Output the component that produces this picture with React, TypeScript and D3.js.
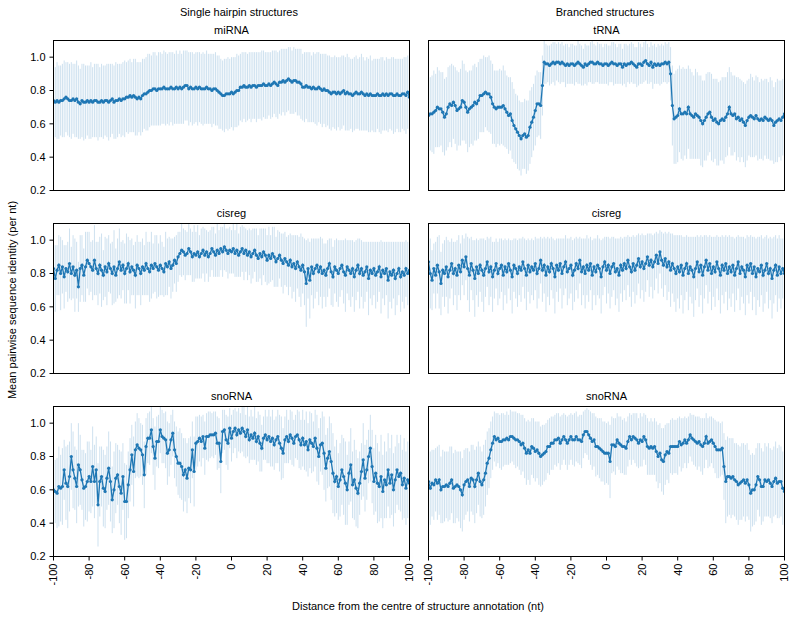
import React from "react";
import * as d3 from "d3";

// x categories: distance from centre (nt)
const positions: number[] = d3.range(-100, 101);
const xTicks = [-100, -80, -60, -40, -20, 0, 20, 40, 60, 80, 100];
const yTicks = [0.2, 0.4, 0.6, 0.8, 1.0];

const miRNAMean = [
  .74, .73, .74, .73, .74, .74, .75, .76, .75, .74,
  .74, .75, .74, .75, .73, .72, .74, .73, .73, .74,
  .73, .74, .73, .74, .74, .73, .73, .74, .73, .74,
  .74, .73, .74, .75, .73, .74, .74, .75, .74, .75,
  .75, .76, .76, .77, .76, .77, .76, .75, .76, .75,
  .77, .78, .78, .79, .80, .80, .81, .81, .80, .81,
  .81, .81, .82, .81, .81, .81, .82, .81, .81, .82,
  .81, .82, .81, .82, .83, .83, .81, .82, .81, .81,
  .82, .81, .82, .81, .81, .81, .82, .81, .81, .80,
  .81, .81, .80, .79, .78, .77, .77, .78, .78, .78,
  .79, .78, .79, .80, .80, .82, .82, .83, .82, .82,
  .83, .82, .83, .83, .82, .83, .83, .83, .84, .83,
  .83, .84, .83, .84, .85, .84, .83, .85, .85, .86,
  .85, .86, .87, .86, .85, .86, .86, .85, .85, .84,
  .82, .82, .83, .82, .82, .81, .82, .81, .81, .82,
  .81, .80, .81, .80, .80, .79, .78, .79, .79, .78,
  .79, .78, .79, .80, .78, .79, .78, .78, .77, .78,
  .79, .78, .78, .79, .78, .77, .78, .77, .78, .77,
  .77, .77, .78, .77, .77, .78, .77, .78, .77, .78,
  .78, .77, .77, .78, .77, .77, .78, .78, .77, .79,
  .76,
];
const miRNAErr = [
  .22, .21, .23, .22, .21, .22, .23, .21, .22, .22,
  .23, .21, .22, .23, .22, .21, .22, .23, .22, .21,
  .22, .23, .21, .22, .22, .23, .21, .22, .22, .21,
  .22, .23, .22, .21, .22, .23, .22, .21, .22, .22,
  .23, .21, .22, .22, .21, .22, .23, .22, .21, .22,
  .22, .21, .22, .23, .22, .21, .22, .22, .21, .22,
  .22, .21, .22, .22, .21, .22, .21, .22, .21, .22,
  .21, .22, .21, .22, .21, .21, .22, .21, .22, .21,
  .21, .22, .21, .21, .22, .21, .22, .21, .21, .22,
  .21, .22, .21, .22, .21, .21, .22, .21, .22, .21,
  .21, .22, .21, .22, .21, .20, .21, .20, .21, .20,
  .20, .21, .20, .20, .21, .20, .20, .21, .20, .20,
  .20, .19, .20, .20, .19, .20, .20, .19, .20, .19,
  .20, .19, .19, .20, .19, .20, .19, .20, .20, .21,
  .20, .21, .20, .21, .21, .20, .21, .21, .22, .21,
  .21, .22, .21, .22, .21, .22, .22, .21, .22, .22,
  .21, .22, .22, .21, .22, .23, .22, .21, .22, .22,
  .22, .21, .22, .23, .22, .21, .22, .22, .23, .21,
  .22, .22, .21, .22, .23, .22, .21, .22, .22, .21,
  .22, .23, .22, .21, .22, .22, .21, .22, .23, .22,
  .22,
];

const tRNAMean = [
  .65, .66, .66, .67, .68, .70, .69, .69, .67, .64,
  .66, .70, .72, .71, .73, .71, .68, .69, .70, .74,
  .73, .70, .67, .69, .70, .71, .73, .72, .74, .77,
  .77, .78, .79, .78, .78, .76, .72, .70, .69, .70,
  .70, .70, .71, .69, .67, .65, .66, .62, .59, .57,
  .55, .53, .51, .53, .54, .52, .53, .58, .61, .64,
  .68, .72, .72, .71, .83, .97, .96, .96, .95, .96,
  .97, .96, .97, .97, .96, .97, .96, .95, .96, .95,
  .96, .96, .95, .96, .97, .96, .95, .94, .96, .95,
  .96, .97, .97, .96, .96, .97, .96, .96, .95, .96,
  .96, .95, .96, .97, .96, .96, .95, .96, .96, .94,
  .96, .95, .96, .96, .97, .96, .95, .94, .96, .96,
  .95, .97, .98, .96, .95, .97, .94, .96, .95, .96,
  .95, .96, .96, .97, .96, .97, .90, .71, .63, .64,
  .65, .69, .66, .66, .67, .66, .70, .66, .65, .64,
  .66, .65, .64, .62, .60, .62, .64, .66, .67, .64,
  .62, .63, .61, .60, .62, .63, .62, .64, .66, .70,
  .66, .65, .66, .63, .64, .62, .63, .61, .59, .62,
  .64, .65, .64, .63, .65, .63, .62, .63, .62, .64,
  .63, .62, .63, .62, .59, .61, .62, .63, .62, .64,
  .66,
];
const tRNAErr = [
  .24, .22, .23, .25, .22, .24, .23, .22, .24, .23,
  .22, .24, .23, .25, .22, .23, .24, .22, .23, .24,
  .23, .22, .24, .23, .22, .24, .23, .22, .23, .22,
  .22, .23, .21, .22, .23, .22, .24, .22, .23, .22,
  .23, .22, .24, .23, .22, .23, .22, .23, .22, .21,
  .22, .21, .22, .20, .21, .22, .21, .22, .21, .20,
  .21, .20, .19, .20, .18, .13, .12, .11, .12, .12,
  .12, .13, .11, .12, .12, .12, .11, .13, .12, .11,
  .12, .12, .12, .11, .13, .12, .12, .11, .12, .12,
  .11, .12, .13, .12, .11, .12, .12, .12, .11, .12,
  .12, .12, .11, .12, .13, .12, .11, .12, .12, .11,
  .12, .13, .11, .12, .12, .12, .11, .12, .13, .12,
  .11, .12, .12, .12, .11, .12, .13, .12, .11, .12,
  .12, .12, .11, .12, .12, .12, .16, .24, .27, .28,
  .28, .26, .27, .28, .26, .27, .25, .27, .26, .25,
  .27, .26, .25, .27, .26, .24, .26, .25, .24, .26,
  .25, .24, .26, .25, .24, .25, .26, .24, .25, .24,
  .25, .24, .23, .25, .24, .25, .23, .24, .25, .24,
  .23, .25, .24, .23, .24, .25, .23, .24, .24, .23,
  .24, .23, .25, .24, .23, .24, .25, .23, .24, .23,
  .24,
];

const cisregLMean = [
  .83, .77, .82, .85, .80, .84, .78, .83, .81, .86,
  .80, .84, .79, .82, .72, .83, .85, .79, .84, .88,
  .86, .84, .82, .88, .83, .80, .85, .82, .79, .84,
  .81, .86, .83, .80, .84, .79, .83, .87, .82, .85,
  .80, .83, .86, .81, .84, .82, .79, .85, .83, .80,
  .84, .82, .86, .83, .81, .85, .83, .86, .84, .82,
  .85, .83, .81, .86, .84, .87, .83, .85, .88, .86,
  .90, .92, .94, .93, .91, .92, .95, .93, .90, .92,
  .91, .93, .90, .92, .94, .91, .93, .90, .92, .95,
  .93, .91, .94, .92, .95, .93, .96, .94, .92, .94,
  .93, .95, .92, .94, .91, .93, .95, .92, .94, .91,
  .93, .90, .92, .94, .91, .89, .92, .90, .93, .91,
  .88, .91, .89, .92, .90, .87, .89, .91, .88, .86,
  .89, .87, .85, .88, .84, .86, .83, .87, .84, .82,
  .85, .81, .74, .83, .76, .84, .80, .83, .85, .81,
  .84, .80, .82, .79, .83, .86, .81, .78, .84, .82,
  .80, .83, .85, .81, .79, .84, .82, .80, .83, .78,
  .82, .85, .80, .83, .79, .81, .84, .77, .82, .80,
  .83, .79, .81, .84, .78, .82, .80, .83, .76, .81,
  .79, .82, .77, .80, .83, .78, .81, .79, .83, .80,
  .82,
];
const cisregLErr = [
  .17, .20, .15, .18, .22, .16, .19, .14, .18, .21,
  .16, .19, .22, .17, .15, .20, .18, .16, .21, .17,
  .19, .15, .18, .21, .16, .19, .17, .22, .15, .18,
  .20, .17, .15, .19, .22, .16, .18, .20, .17, .15,
  .18, .21, .16, .19, .17, .15, .20, .18, .16, .19,
  .17, .15, .19, .16, .18, .20, .15, .17, .19, .16,
  .18, .16, .15, .19, .17, .15, .18, .16, .14, .17,
  .15, .13, .16, .14, .15, .13, .16, .14, .15, .17,
  .14, .16, .13, .15, .14, .16, .13, .15, .14, .13,
  .15, .13, .16, .14, .13, .15, .14, .13, .15, .14,
  .13, .15, .14, .16, .13, .15, .14, .16, .13, .15,
  .14, .16, .15, .13, .16, .14, .15, .17, .14, .16,
  .15, .17, .14, .16, .18, .15, .17, .14, .16, .18,
  .16, .15, .18, .16, .19, .17, .20, .16, .18, .22,
  .17, .20, .26, .18, .23, .17, .21, .18, .16, .20,
  .18, .21, .16, .19, .17, .15, .20, .18, .16, .19,
  .20, .17, .15, .19, .22, .16, .18, .20, .17, .21,
  .18, .16, .21, .17, .20, .18, .15, .22, .17, .19,
  .16, .20, .18, .15, .22, .17, .19, .16, .23, .18,
  .20, .17, .22, .19, .16, .21, .18, .20, .17, .19,
  .18,
];

const cisregRMean = [
  .87, .80, .76, .83, .79, .85, .81, .74, .82, .80,
  .84, .78, .82, .86, .80, .83, .79, .85, .81, .88,
  .84, .90, .83, .79, .86, .82, .77, .84, .80, .85,
  .82, .79, .83, .87, .81, .84, .78, .82, .86, .80,
  .83, .85, .79, .84, .81, .86, .82, .78, .85, .83,
  .80, .84, .82, .87, .83, .79, .85, .81, .84, .82,
  .86, .80, .83, .88, .82, .85, .79, .84, .81, .86,
  .83, .78, .85, .82, .86, .80, .84, .87, .81, .83,
  .85, .79, .82, .86, .83, .88, .81, .84, .80, .85,
  .82, .86, .79, .84, .81, .85, .83, .78, .84, .87,
  .82, .85, .80, .84, .86, .81, .83, .79, .85, .82,
  .86, .83, .88, .84, .81, .86, .82, .85, .89, .84,
  .87, .83, .86, .90, .85, .88, .84, .87, .91, .86,
  .93, .88, .85, .89, .84, .87, .82, .86, .83, .80,
  .84, .81, .85, .79, .83, .86, .80, .84, .82, .78,
  .83, .87, .81, .85, .79, .84, .88, .82, .86, .80,
  .84, .81, .87, .83, .79, .85, .82, .86, .80, .84,
  .81, .85, .79, .83, .87, .80, .84, .82, .78, .85,
  .82, .86, .80, .84, .78, .83, .81, .85, .79, .82,
  .86, .80, .83, .77, .82, .85, .79, .84, .80, .83,
  .80,
];
const cisregRErr = [
  .16, .21, .18, .15, .20, .17, .22, .19, .16, .20,
  .18, .22, .17, .15, .19, .16, .21, .18, .17, .15,
  .17, .14, .19, .22, .16, .18, .23, .17, .20, .16,
  .19, .22, .17, .15, .20, .18, .21, .17, .15, .19,
  .18, .16, .21, .17, .19, .15, .18, .22, .16, .18,
  .20, .17, .19, .15, .18, .21, .16, .19, .17, .18,
  .16, .21, .18, .14, .19, .17, .22, .18, .20, .16,
  .18, .22, .16, .19, .15, .21, .17, .16, .20, .18,
  .17, .21, .19, .16, .18, .14, .20, .17, .21, .18,
  .19, .16, .21, .17, .20, .18, .18, .22, .17, .15,
  .20, .17, .21, .18, .16, .20, .18, .22, .17, .19,
  .16, .19, .15, .18, .21, .17, .20, .18, .15, .19,
  .17, .20, .17, .14, .19, .16, .19, .17, .14, .18,
  .13, .17, .19, .16, .20, .18, .22, .18, .20, .23,
  .19, .22, .18, .23, .19, .17, .22, .18, .20, .24,
  .19, .16, .21, .18, .23, .19, .15, .20, .17, .22,
  .18, .21, .16, .19, .23, .18, .20, .17, .22, .19,
  .21, .17, .22, .19, .16, .22, .18, .20, .23, .18,
  .20, .17, .22, .18, .23, .19, .21, .18, .22, .20,
  .17, .21, .19, .24, .20, .18, .22, .19, .21, .18,
  .21,
];

const snoLMean = [
  .60, .59, .58, .62, .61, .62, .72, .64, .62, .68,
  .80, .72, .67, .62, .75, .72, .66, .61, .62, .65,
  .68, .65, .74, .65, .72, .51, .65, .68, .61, .59,
  .67, .73, .65, .54, .60, .67, .69, .62, .58, .68,
  .53, .53, .63, .72, .81, .71, .84, .87, .85, .84,
  .81, .69, .86, .91, .91, .96, .86, .79, .89, .89,
  .96, .92, .91, .90, .82, .84, .90, .94, .84, .80,
  .76, .76, .74, .69, .72, .67, .73, .72, .84, .71,
  .88, .89, .91, .89, .92, .85, .92, .92, .93, .93,
  .93, .94, .88, .88, .77, .95, .96, .90, .88, .97,
  .91,
  .95, .97, .93, .96, .94, .97, .95, .92, .96, .90,
  .93, .91, .94, .89, .92, .88, .85, .91, .93, .90,
  .92, .89, .91, .87, .90, .92, .88, .85, .82, .90,
  .92, .89, .93, .91, .88, .92, .93, .90, .87, .91,
  .87, .89, .84, .90, .88, .86, .91, .85, .80, .87,
  .88, .82, .73, .79, .83, .77, .70, .65, .68, .62,
  .66, .72, .68, .64, .60, .70, .75, .63, .66, .61,
  .58, .64, .71, .78, .67, .72, .80, .85, .74, .65,
  .70, .64, .62, .68, .59, .66, .63, .72, .64, .69,
  .60, .66, .72, .68, .70, .63, .67, .61, .66, .64,
];
const snoLErr = [
  .22, .19, .21, .24, .20, .23, .18, .22, .25, .21,
  .20, .23, .19, .22, .25, .21, .18, .23, .20, .24,
  .21, .19, .24, .22, .20, .25, .21, .18, .23, .22,
  .19, .22, .24, .20, .23, .21, .18, .22, .25, .20,
  .23, .22, .20, .19, .18, .21, .17, .19, .18, .16,
  .18, .20, .17, .15, .16, .14, .17, .19, .15, .16,
  .14, .16, .15, .17, .19, .16, .15, .14, .17, .18,
  .19, .21, .20, .22, .19, .21, .18, .20, .17, .21,
  .16, .15, .14, .15, .13, .16, .14, .15, .14, .13,
  .14, .13, .16, .15, .19, .13, .12, .15, .16, .12,
  .14, .13, .12, .14, .13, .12, .14, .15, .13, .16,
  .14, .15, .13, .16, .14, .15, .17, .14, .13, .15,
  .14, .16, .15, .17, .15, .14, .16, .17, .19, .15,
  .14, .16, .13, .15, .16, .14, .13, .15, .17, .15,
  .17, .15, .18, .16, .17, .18, .15, .17, .20, .17,
  .16, .19, .22, .20, .18, .21, .23, .24, .21, .22,
  .20, .22, .21, .23, .25, .21, .19, .22, .20, .24,
  .23, .21, .19, .17, .22, .20, .18, .16, .20, .22,
  .20, .23, .24, .21, .25, .22, .23, .20, .22, .21,
  .24, .22, .20, .21, .20, .23, .21, .24, .22, .23,
  .22,
];

const snoRMean = [
  .65, .61, .64, .63, .66, .64, .66, .60, .62, .62,
  .63, .62, .64, .66, .61, .62, .63, .62, .60, .57,
  .63, .65, .66, .62, .67, .66, .62, .66, .70, .65,
  .63, .66, .70, .76, .79, .84, .88, .92, .90, .91,
  .89, .89, .90, .90, .91, .90, .92, .92, .91, .90,
  .90, .89, .87, .88, .85, .82, .84, .82, .86, .85,
  .83, .84, .82, .80, .81, .82, .83, .86, .86, .88,
  .88, .90, .90, .91, .88, .90, .92, .90, .88, .90,
  .92, .90, .90, .92, .90, .90, .89, .93, .95, .95,
  .93, .91, .89, .90, .86, .86, .85, .84, .83, .82,
  .82, .82, .77, .87, .87, .86, .90, .88, .87, .86,
  .86, .85, .89, .92, .90, .92, .91, .90, .88, .90,
  .89, .92, .90, .86, .85, .86, .85, .86, .83, .80,
  .82, .78, .77, .81, .83, .82, .86, .86, .86, .86,
  .86, .89, .87, .88, .90, .88, .90, .93, .91, .90,
  .89, .88, .89, .87, .86, .88, .92, .88, .89, .90,
  .88, .86, .84, .84, .84, .85, .74, .65, .68, .68,
  .67, .68, .66, .65, .63, .64, .65, .66, .64, .66,
  .63, .58, .60, .60, .63, .68, .66, .62, .62, .66,
  .65, .66, .64, .62, .65, .67, .64, .65, .65, .61,
  .59,
];
const snoRErr = [
  .21, .22, .20, .21, .19, .22, .21, .20, .22, .21,
  .20, .21, .22, .20, .21, .22, .20, .21, .23, .22,
  .21, .20, .19, .21, .20, .21, .22, .20, .19, .21,
  .20, .21, .20, .19, .18, .17, .16, .15, .16, .15,
  .16, .17, .16, .15, .16, .15, .16, .15, .16, .17,
  .16, .17, .18, .17, .18, .19, .18, .19, .17, .18,
  .18, .17, .19, .18, .18, .17, .17, .16, .17, .16,
  .16, .15, .16, .15, .16, .15, .14, .15, .16, .15,
  .14, .15, .16, .15, .14, .15, .16, .14, .13, .14,
  .15, .16, .17, .16, .18, .17, .18, .19, .18, .19,
  .18, .19, .22, .17, .16, .17, .16, .16, .17, .16,
  .17, .16, .15, .14, .15, .14, .15, .16, .15, .16,
  .15, .14, .15, .17, .16, .17, .16, .17, .18, .19,
  .18, .19, .20, .18, .17, .18, .16, .17, .16, .16,
  .17, .15, .16, .15, .14, .15, .14, .13, .14, .15,
  .15, .16, .15, .16, .17, .15, .14, .15, .15, .14,
  .15, .16, .17, .17, .16, .16, .20, .25, .24, .23,
  .24, .23, .22, .23, .24, .22, .23, .22, .23, .22,
  .21, .23, .22, .21, .22, .20, .22, .23, .21, .22,
  .21, .22, .21, .22, .21, .22, .21, .22, .21, .22,
  .20,
];

const panels = [
  { title: "miRNA", mean: miRNAMean, err: miRNAErr, col: 0, row: 0 },
  { title: "tRNA", mean: tRNAMean, err: tRNAErr, col: 1, row: 0 },
  { title: "cisreg", mean: cisregLMean, err: cisregLErr, col: 0, row: 1 },
  { title: "cisreg", mean: cisregRMean, err: cisregRErr, col: 1, row: 1 },
  { title: "snoRNA", mean: snoLMean, err: snoLErr, col: 0, row: 2 },
  { title: "snoRNA", mean: snoRMean, err: snoRErr, col: 1, row: 2 },
];

const BLUE = "#1f77b4";
const FONT = "'Liberation Sans', Arial, Helvetica, sans-serif";

export default function App() {
  const W = 795, H = 617;
  const colX = [53.5, 428.5];
  const pw = 356;
  const rowY = [40.5, 223.5, 406.5];
  const ph = 150;
  const fmt = d3.format(".1f");

  return (
    <svg width={W} height={H} style={{ position: "absolute", left: 0, top: 0, background: "#fff" }} fontFamily={FONT} fontSize={11}>
      <rect x={0} y={0} width={W} height={H} fill="#fff" />
      <text x={239} y={16} textAnchor="middle" fill="#000">Single hairpin structures</text>
      <text x={605} y={16} textAnchor="middle" fill="#000">Branched structures</text>
      {panels.map((p, pi) => {
        const x0 = colX[p.col], y0 = rowY[p.row];
        const x = d3.scaleLinear().domain([-100, 100]).range([x0, x0 + pw]);
        const y = d3.scaleLinear().domain([0.2, 1.1]).range([y0 + ph, y0]);
        const pts = positions.map((pos, i) => ({ pos, m: p.mean[i], e: p.err[i] })).filter(d => d.m !== undefined);
        const line = d3.line<{ pos: number; m: number }>().x(d => x(d.pos)).y(d => y(d.m));
        const clipId = `clip${pi}`;
        return (
          <g key={pi}>
            <defs>
              <clipPath id={clipId}>
                <rect x={x0} y={y0} width={pw} height={ph} />
              </clipPath>
            </defs>
            <text x={x0 + pw / 2} y={y0 - 6.5} textAnchor="middle" fill="#000">{p.title}</text>
            <g clipPath={`url(#${clipId})`}>
              {pts.map((d, i) => (
                <line key={i} x1={x(d.pos)} x2={x(d.pos)} y1={y(d.m - d.e)} y2={y(d.m + d.e)} stroke={BLUE} strokeOpacity={0.28} strokeWidth={0.8} />
              ))}
              <path d={line(pts) || ""} fill="none" stroke={BLUE} strokeWidth={1.3} />
              {pts.map((d, i) => (
                <circle key={i} cx={x(d.pos)} cy={y(d.m)} r={1.6} fill={BLUE} />
              ))}
            </g>
            <rect x={x0} y={y0} width={pw} height={ph} fill="none" stroke="#000" strokeWidth={1} />
            {p.col === 0 && yTicks.map(t => (
              <g key={t}>
                <line x1={x0 - 4} x2={x0} y1={y(t)} y2={y(t)} stroke="#000" strokeWidth={1} />
                <text x={x0 - 8} y={y(t)} dy="0.35em" textAnchor="end" fill="#000">{fmt(t)}</text>
              </g>
            ))}
            {p.row === 2 && xTicks.map(t => (
              <g key={t}>
                <line x1={x(t)} x2={x(t)} y1={y0 + ph} y2={y0 + ph + 4} stroke="#000" strokeWidth={1} />
                <text transform={`translate(${x(t)},${y0 + ph + 7}) rotate(-90)`} dy="0.35em" textAnchor="end" fill="#000">{t}</text>
              </g>
            ))}
          </g>
        );
      })}
      <text transform="translate(16,300) rotate(-90)" textAnchor="middle" fill="#000">Mean pairwise sequence identity (per nt)</text>
      <text x={418} y={610} textAnchor="middle" fill="#000">Distance from the centre of structure annotation (nt)</text>
    </svg>
  );
}
